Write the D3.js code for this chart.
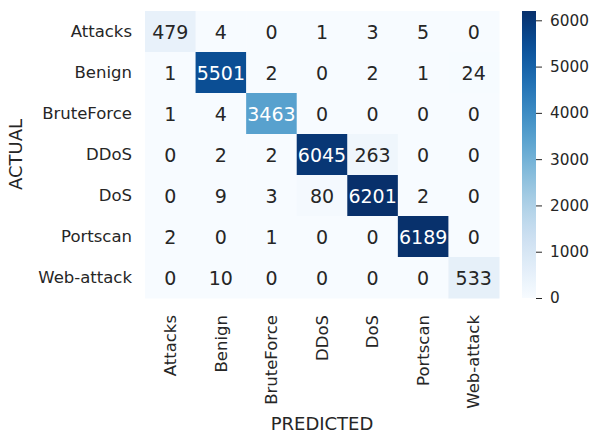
<!DOCTYPE html>
<html>
<head>
<meta charset="utf-8">
<script src="https://cdn.jsdelivr.net/npm/d3@7"></script>
<style>
  body { margin: 0; background: #fff; }
  text { font-family: "DejaVu Sans", sans-serif; fill: #262626; }
</style>
</head>
<body>
<svg id="chart" width="593" height="433"></svg>
<script>
// labels for both axes
const classes = ['Attacks', 'Benign', 'BruteForce', 'DDoS', 'DoS', 'Portscan', 'Web-attack'];

// confusion matrix rows (actual) x cols (predicted)
const rowAttacks   = [479, 4, 0, 1, 3, 5, 0];
const rowBenign    = [1, 5501, 2, 0, 2, 1, 24];
const rowBrute     = [1, 4, 3463, 0, 0, 0, 0];
const rowDDoS      = [0, 2, 2, 6045, 263, 0, 0];
const rowDoS       = [0, 9, 3, 80, 6201, 2, 0];
const rowPortscan  = [2, 0, 1, 0, 0, 6189, 0];
const rowWeb       = [0, 10, 0, 0, 0, 0, 533];
const matrix = [rowAttacks, rowBenign, rowBrute, rowDDoS, rowDoS, rowPortscan, rowWeb];

const cbarTicks = [0, 1000, 2000, 3000, 4000, 5000, 6000];

const svg = d3.select('#chart');

const plot = { left: 145, top: 11, width: 354, height: 287 };

const x = d3.scaleBand().domain(classes).range([plot.left, plot.left + plot.width]);
const y = d3.scaleBand().domain(classes).range([plot.top, plot.top + plot.height]);

const vmax = d3.max(matrix.flat());
const color = d3.scaleSequential(d3.interpolateBlues).domain([0, vmax]);

const cells = [];
matrix.forEach((row, i) => row.forEach((v, j) => cells.push({ actual: classes[i], predicted: classes[j], value: v })));

// cells
svg.append('g').selectAll('rect')
  .data(cells)
  .join('rect')
  .attr('x', d => x(d.predicted))
  .attr('y', d => y(d.actual))
  .attr('width', x.bandwidth() + 0.5)
  .attr('height', y.bandwidth() + 0.5)
  .attr('fill', d => color(d.value));

// annotations, white on dark cells like seaborn
function lum(c) {
  const rgb = d3.rgb(c);
  const f = v => { v /= 255; return v <= 0.03928 ? v / 12.92 : Math.pow((v + 0.055) / 1.055, 2.4); };
  return 0.2126 * f(rgb.r) + 0.7152 * f(rgb.g) + 0.0722 * f(rgb.b);
}
svg.append('g').selectAll('text')
  .data(cells)
  .join('text')
  .attr('x', d => x(d.predicted) + x.bandwidth() / 2)
  .attr('y', d => y(d.actual) + y.bandwidth() / 2)
  .attr('text-anchor', 'middle')
  .attr('dominant-baseline', 'central')
  .attr('font-size', '19px')
  .style('fill', d => lum(color(d.value)) < 0.408 ? '#ffffff' : '#262626')
  .text(d => d.value);

// y axis
const yAxis = svg.append('g')
  .attr('transform', `translate(${plot.left},0)`)
  .call(d3.axisLeft(y).tickSize(0).tickPadding(13));
yAxis.select('.domain').remove();
yAxis.selectAll('text').attr('font-size', '16.5px').attr('font-family', 'DejaVu Sans').style('fill', '#262626');

// x axis
const xAxis = svg.append('g')
  .attr('transform', `translate(0,${plot.top + plot.height})`)
  .call(d3.axisBottom(x).tickSize(0));
xAxis.select('.domain').remove();
xAxis.selectAll('text')
  .attr('font-size', '16.5px')
  .attr('font-family', 'DejaVu Sans')
  .style('fill', '#262626')
  .attr('transform', 'rotate(-90)')
  .attr('text-anchor', 'end')
  .attr('x', -17)
  .attr('y', 0)
  .attr('dy', '0.35em');

// axis titles
svg.append('text')
  .attr('x', plot.left + plot.width / 2)
  .attr('y', 430)
  .attr('text-anchor', 'middle')
  .attr('font-size', '18px')
  .text('PREDICTED');

svg.append('text')
  .attr('transform', `translate(22,${plot.top + plot.height / 2}) rotate(-90)`)
  .attr('text-anchor', 'middle')
  .attr('font-size', '18px')
  .text('ACTUAL');

// colorbar
const cb = { left: 522, width: 14 };
const cy = d3.scaleLinear().domain([0, vmax]).range([plot.top + plot.height, plot.top]);

const defs = svg.append('defs');
const grad = defs.append('linearGradient')
  .attr('id', 'cbar')
  .attr('x1', 0).attr('y1', 1).attr('x2', 0).attr('y2', 0);
d3.range(0, 1.0001, 0.05).forEach(t => {
  grad.append('stop').attr('offset', t).attr('stop-color', color(t * vmax));
});

svg.append('rect')
  .attr('x', cb.left)
  .attr('y', plot.top)
  .attr('width', cb.width)
  .attr('height', plot.height)
  .attr('fill', 'url(#cbar)');

const cAxis = svg.append('g')
  .attr('transform', `translate(${cb.left + cb.width},0)`)
  .call(d3.axisRight(cy).tickValues(cbarTicks).tickSize(6).tickPadding(8).tickFormat(d3.format('d')));
cAxis.select('.domain').remove();
cAxis.selectAll('line').attr('stroke', '#262626');
cAxis.selectAll('text').attr('font-size', '15.3px').attr('font-family', 'DejaVu Sans').style('fill', '#262626');
</script>
</body>
</html>
